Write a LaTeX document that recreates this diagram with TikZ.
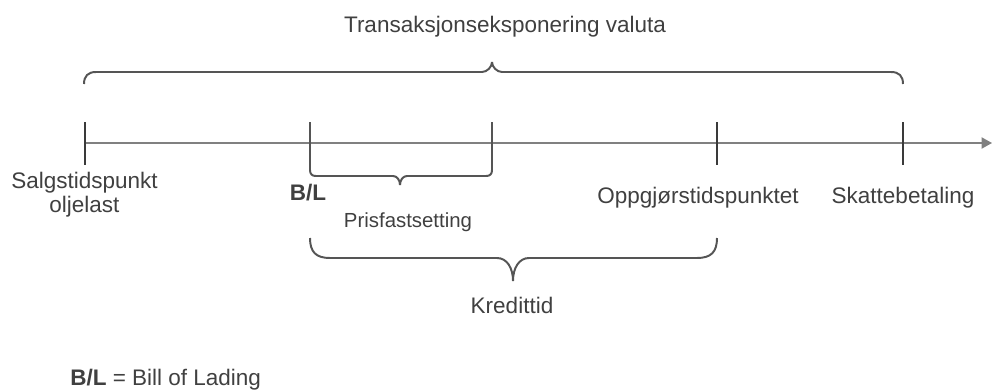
\documentclass[tikz,border=0pt]{standalone}
\usepackage{fontspec}
\setmainfont{Liberation Sans}
\usepackage{xcolor}
\usetikzlibrary{arrows.meta}
\usetikzlibrary{positioning}
\usetikzlibrary{calc}

\definecolor{axisgray}{HTML}{808080}
\definecolor{tickgray}{HTML}{3A3A3A}
\definecolor{bracegray}{HTML}{555555}
\definecolor{textgray}{HTML}{404040}

\tikzset{
  tick/.style={color=tickgray, line width=1.5pt},
  brace/.style={color=bracegray, line width=1.4pt},
  lbl/.style={text=textgray, font=\fontsize{16}{17.7}\selectfont, inner sep=0pt, align=center, anchor=base}
}

\begin{document}
\begin{tikzpicture}[x=0.025cm, y=-0.025cm]
\useasboundingbox (0,0) rectangle (992,390);

% time axis
\coordinate (start) at (85,143);
\coordinate (end) at (992,143);
\draw[color=axisgray, line width=0.9pt, -{Triangle[length=0.26cm,width=0.28cm]}] (start) -- (end);

% ticks
\draw[tick] (85,122) -- (85,165);
\draw[tick] (717,122) -- (717,165);
\draw[tick] (903,122) -- (903,165);

% prisfastsetting (ticks at 310 and 492)
\draw[brace] (310,122) -- (310,170) .. controls (310,174) and (312,176) .. (316,176) -- (393,176) .. controls (397,176) and (400,180) .. (400,185);
\draw[brace] (492,122) -- (492,170) .. controls (492,174) and (490,176) .. (486,176) -- (407,176) .. controls (403,176) and (400,180) .. (400,185);

% top brace
\draw[brace] (84,84) .. controls (84,76) and (88,72) .. (96,72) -- (482,72) .. controls (487,72) and (492,67) .. (492,62);
\draw[brace] (903,84) .. controls (903,76) and (899,72) .. (891,72) -- (502,72) .. controls (497,72) and (492,67) .. (492,62);

% kreditt brace
\draw[brace] (310,238) .. controls (310,252) and (316,258) .. (330,258) -- (497,258) .. controls (507,258) and (513,268) .. (513,281);
\draw[brace] (717,238) .. controls (717,252) and (711,258) .. (697,258) -- (529,258) .. controls (519,258) and (513,268) .. (513,281);

% labels
\node[lbl] (transaksjon) at (505,32) {Transaksjonseksponering valuta};
\node[lbl, anchor=center] (salg) at (84.5,194.7) {Salgstidspunkt\\oljelast};
\node[lbl, font=\fontsize{16}{17.7}\selectfont\bfseries] (bl) at (308,200) {B/L};
\node[lbl, font=\fontsize{14.5}{16}\selectfont] (pris) at (408,227) {Prisfastsetting};
\node[lbl] (oppgjor) at (698,203) {Oppgjørstidspunktet};
\node[lbl] (skatt) at (903,203) {Skattebetaling};
\node[lbl] (kreditt) at (512,313) {Kredittid};
\node[lbl, anchor=base west] (legend) at (70,385) {\textbf{B/L} = Bill of Lading};
\end{tikzpicture}
\end{document}
